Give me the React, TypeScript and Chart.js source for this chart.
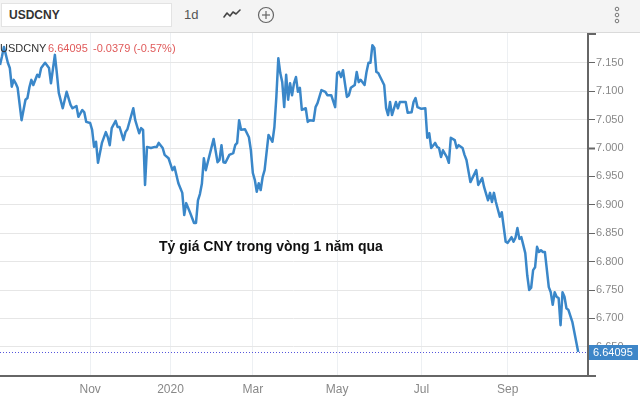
import React, { useEffect, useRef } from "react";
import { Chart, registerables } from "chart.js";

Chart.register(...registerables);

// ---- data (session index since start of window, close price) ----
const sessions = [
  0, 1, 2, 4, 5, 6, 7, 8, 9, 11, 13, 14, 15, 16, 17, 19, 20, 21, 23, 25, 26, 28, 29, 30, 32, 34, 36, 37, 39, 40,
  42, 43, 44, 46, 47, 48, 49, 50, 52, 54, 55, 56, 57, 59, 60, 61, 63, 64, 65, 68, 69, 71, 72, 73, 74, 75, 77, 79, 80, 81,
  83, 84, 86, 88, 89, 91, 93, 94, 95, 97, 99, 100, 101, 102, 103, 104, 105, 106, 109, 111, 112, 113, 114, 115, 117, 119, 120, 121, 122, 123,
  125, 127, 128, 129, 130, 131, 132, 133, 134, 135, 137, 139, 140, 141, 142, 143, 144, 145, 146, 147, 148, 149, 150, 151, 152, 153, 154, 156, 157, 158,
  160, 161, 162, 164, 166, 167, 169, 171, 172, 173, 174, 175, 177, 178, 179, 181, 182, 183, 184, 186, 187, 188, 189, 190, 191, 192, 193, 194, 196, 197,
  198, 199, 200, 202, 203, 204, 206, 207, 208, 210, 211, 212, 213, 215, 217, 218, 219, 220, 222, 223, 224, 225, 226, 228, 229, 230, 232, 233, 234, 236,
  237, 238, 240, 241, 243, 244, 246, 247, 249, 250, 251, 252, 253, 255, 256, 257, 258, 259, 261, 262, 263, 264, 265, 266, 267, 268, 269, 270, 271, 272,
  273, 274, 275, 276, 277, 278, 280, 281, 282, 283, 284, 285, 286, 287, 288, 289, 290, 292, 295,
];
const closes = [
  7.146, 7.161, 7.178, 7.15, 7.141, 7.108, 7.12, 7.114, 7.106, 7.049, 7.085, 7.088, 7.107, 7.12, 7.111, 7.129, 7.125, 7.141, 7.15, 7.141, 7.114, 7.164, 7.132, 7.097, 7.07, 7.099, 7.076, 7.07, 7.074, 7.055,
  7.067, 7.063, 7.046, 7.044, 7.032, 7.002, 7.011, 6.974, 7.009, 7.028, 7.019, 7.005, 7.035, 7.048, 7.037, 7.037, 7.014, 7.028, 7.033, 7.07, 7.049, 7.026, 7.035, 7.032, 6.935, 7.002, 7.0, 7.002, 7.002, 7.009,
  7.0, 6.988, 6.982, 6.961, 6.967, 6.938, 6.921, 6.882, 6.903, 6.886, 6.868, 6.868, 6.908, 6.919, 6.937, 6.982, 6.961, 6.975, 7.016, 6.975, 6.979, 7.005, 6.975, 6.974, 6.988, 6.991, 7.005, 7.009, 7.049, 7.032,
  7.033, 7.019, 6.996, 6.956, 6.944, 6.923, 6.938, 6.926, 6.949, 6.961, 7.023, 7.011, 7.037, 7.09, 7.158, 7.132, 7.116, 7.072, 7.129, 7.085, 7.114, 7.093, 7.114, 7.125, 7.099, 7.106, 7.067, 7.07, 7.046, 7.049,
  7.048, 7.072, 7.079, 7.102, 7.099, 7.093, 7.093, 7.072, 7.132, 7.134, 7.125, 7.137, 7.09, 7.093, 7.106, 7.111, 7.134, 7.116, 7.12, 7.111, 7.134, 7.15, 7.15, 7.181, 7.176, 7.134, 7.132, 7.125, 7.111, 7.07,
  7.058, 7.081, 7.058, 7.081, 7.07, 7.081, 7.081, 7.081, 7.062, 7.063, 7.081, 7.088, 7.072, 7.069, 7.07, 7.018, 7.026, 7.0, 7.009, 7.002, 7.0, 6.984, 6.996, 6.984, 6.974, 7.018, 7.014, 7.0, 7.005, 7.0,
  6.988, 6.979, 6.94, 6.947, 6.961, 6.935, 6.947, 6.931, 6.908, 6.921, 6.905, 6.921, 6.905, 6.879, 6.887, 6.861, 6.835, 6.833, 6.843, 6.835, 6.842, 6.859, 6.84, 6.843, 6.829, 6.815, 6.776, 6.75, 6.754, 6.785,
  6.79, 6.826, 6.817, 6.82, 6.817, 6.817, 6.755, 6.746, 6.724, 6.746, 6.738, 6.736, 6.688, 6.746, 6.738, 6.718, 6.715, 6.694, 6.64095,
];
const monthTickSessions = [46, 87, 129, 172, 215, 259];
const monthTickLabels = ["Nov", "2020", "Mar", "May", "Jul", "Sep"];
const priceTickValues = [6.65, 6.7, 6.75, 6.8, 6.85, 6.9, 6.95, 7.0, 7.05, 7.1, 7.15];
const symbol = "USDCNY";
const lastPrice = 6.64095;
const changeAbs = "-0.0379";
const changePct = "(-0.57%)";
const annotation = "Tỷ giá CNY trong vòng 1 năm qua";
const intervalLabel = "1d";
const priceMin = 6.5986;
const priceMax = 7.2025;
const sessionMin = 0;
const sessionMax = 300;

const FONT = '"Liberation Sans", Arial, sans-serif';
const LINE_BLUE = "#3a87c9";

export default function App() {
  const ref = useRef<HTMLCanvasElement>(null);

  useEffect(() => {
    const overlay = {
      id: "overlay",
      afterDraw(chart: any) {
        const { ctx, chartArea } = chart;
        const yScale = chart.scales.y;
        const y = Math.round(yScale.getPixelForValue(lastPrice)) + 0.5;
        ctx.save();
        // dotted last-price line
        ctx.setLineDash([1, 2]);
        ctx.strokeStyle = "#5656dc";
        ctx.lineWidth = 1;
        ctx.beginPath();
        ctx.moveTo(chartArea.left, y);
        ctx.lineTo(chartArea.right, y);
        ctx.stroke();
        ctx.setLineDash([]);
        // axis extensions
        ctx.strokeStyle = "#666";
        ctx.lineWidth = 2;
        ctx.beginPath();
        ctx.moveTo(chartArea.right - 1, chartArea.top + 1);
        ctx.lineTo(chartArea.right + 8, chartArea.top + 1);
        ctx.moveTo(chartArea.right, chartArea.bottom);
        ctx.lineTo(chartArea.right + 8, chartArea.bottom);
        ctx.stroke();
        // price box
        ctx.fillStyle = "#3e86c8";
        ctx.fillRect(chartArea.right + 1, y - 7.5, 49, 15);
        ctx.fillStyle = "#ffffff";
        ctx.font = `11px ${FONT}`;
        ctx.textBaseline = "middle";
        ctx.textAlign = "left";
        ctx.fillText(lastPrice.toFixed(5), chartArea.right + 5, y + 0.5);
        ctx.restore();
      },
    };

    const chart = new Chart(ref.current!, {
      type: "line",
      data: {
        datasets: [
          {
            data: sessions.map((s, i) => ({ x: s, y: closes[i] })),
            borderColor: LINE_BLUE,
            borderWidth: 2.5,
            pointRadius: 0,
            tension: 0,
            fill: false,
            borderJoinStyle: "round",
          },
        ],
      },
      options: {
        animation: false,
        responsive: false,
        events: [],
        layout: { padding: { top: 33, left: 0, right: 0, bottom: 0 } },
        plugins: { legend: { display: false }, tooltip: { enabled: false } },
        scales: {
          x: {
            type: "linear",
            min: sessionMin,
            max: sessionMax,
            afterBuildTicks: (axis: any) => {
              axis.ticks = monthTickSessions.map((v) => ({ value: v }));
            },
            afterFit: (axis: any) => {
              axis.height = 23;
            },
            grid: { color: "#edf0f3", drawTicks: false },
            border: { display: true, color: "#666", width: 2 },
            ticks: {
              autoSkip: false,
              maxRotation: 0,
              padding: 6,
              color: "#888",
              font: { family: FONT, size: 12 },
              callback: (value: any) => {
                const i = monthTickSessions.indexOf(Number(value));
                return i >= 0 ? monthTickLabels[i] : "";
              },
            },
          },
          y: {
            position: "right",
            min: priceMin,
            max: priceMax,
            afterBuildTicks: (axis: any) => {
              axis.ticks = priceTickValues.map((v) => ({ value: v }));
            },
            afterFit: (axis: any) => {
              axis.width = 52;
            },
            grid: {
              color: "#e6e6e6",
              tickColor: "#666",
              tickLength: 7,
              tickWidth: (c: any) => (c.tick && Math.abs(c.tick.value - 7) < 1e-6 ? 2 : 1),
            },
            border: { display: true, color: "#666", width: 2 },
            ticks: {
              padding: 1,
              color: "#888",
              font: { family: FONT, size: 11 },
              callback: (value: any) => Number(value).toFixed(3),
            },
          },
        },
      } as any,
      plugins: [overlay],
    });
    return () => chart.destroy();
  }, []);

  return (
    <div style={{ position: "fixed", left: 0, top: 0, width: 640, height: 399, background: "#fff", overflow: "hidden", fontFamily: FONT }}>
      <canvas ref={ref} width={640} height={399} style={{ position: "absolute", left: 0, top: 0, width: 640, height: 399 }} />
      {/* toolbar */}
      <div style={{ position: "absolute", left: 0, top: 0, width: 640, height: 33, background: "#f4f4f4", borderBottom: "1px solid #dadada", boxSizing: "border-box" }}>
        <div style={{ position: "absolute", left: 1, top: 3, width: 171, height: 24, background: "#fff", border: "1px solid #e3e3e3", boxSizing: "border-box", fontWeight: "bold", fontSize: 12, lineHeight: "22px", color: "#333", paddingLeft: 7 }}>
          {symbol}
        </div>
        <div style={{ position: "absolute", left: 184, top: 7, fontSize: 13, lineHeight: "16px", color: "#555" }}>{intervalLabel}</div>
        <svg style={{ position: "absolute", left: 222, top: 7 }} width={20} height={14}>
          <polyline points="2,10 5,6 8,9 11,5 14,7 18,3" fill="none" stroke="#444" strokeWidth={1.6} strokeLinejoin="round" strokeLinecap="round" />
        </svg>
        <svg style={{ position: "absolute", left: 257, top: 6 }} width={18} height={18}>
          <circle cx={9} cy={9} r={7.5} fill="none" stroke="#666" strokeWidth={1.2} />
          <line x1={5} y1={9} x2={13} y2={9} stroke="#666" strokeWidth={1.2} />
          <line x1={9} y1={5} x2={9} y2={13} stroke="#666" strokeWidth={1.2} />
        </svg>
        <svg style={{ position: "absolute", left: 612, top: 4 }} width={10} height={22}>
          <circle cx={5} cy={5} r={1.8} fill="none" stroke="#777" strokeWidth={1} />
          <circle cx={5} cy={11} r={1.8} fill="none" stroke="#777" strokeWidth={1} />
          <circle cx={5} cy={17} r={1.8} fill="none" stroke="#777" strokeWidth={1} />
        </svg>
      </div>
      {/* legend */}
      <div style={{ position: "absolute", left: 0, top: 41, fontSize: 11, lineHeight: "14px", color: "#333", whiteSpace: "nowrap" }}>{symbol}</div>
      <div style={{ position: "absolute", left: 48, top: 41, fontSize: 11, lineHeight: "14px", color: "#e05a5a", whiteSpace: "nowrap" }}>{lastPrice.toFixed(5)}</div>
      <div style={{ position: "absolute", left: 93, top: 41, fontSize: 11, lineHeight: "14px", color: "#e05a5a", whiteSpace: "nowrap" }}>
        {changeAbs} {changePct}
      </div>
      {/* annotation */}
      <div style={{ position: "absolute", left: 159, top: 238, fontSize: 14, lineHeight: "16px", fontWeight: "bold", color: "#111", whiteSpace: "nowrap" }}>
        {annotation}
      </div>
    </div>
  );
}
